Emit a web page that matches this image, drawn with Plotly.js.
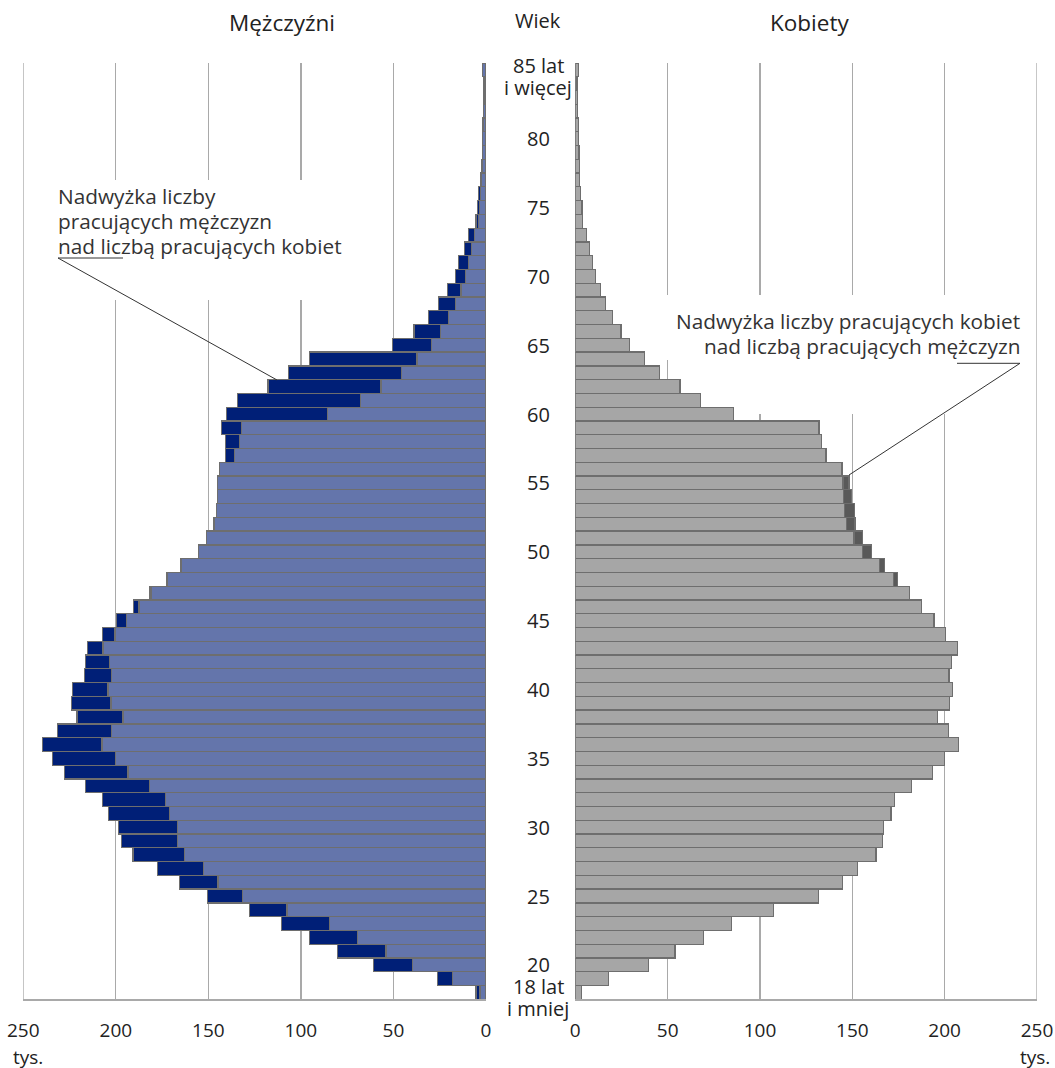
<!DOCTYPE html>
<html>
<head>
<meta charset="utf-8">
<script src="https://cdn.plot.ly/plotly-3.0.1.min.js"></script>
<style>
  html, body { margin: 0; padding: 0; background: #ffffff; }
  #chart { width: 1055px; height: 1068px; }
</style>
</head>
<body>
<div id="chart"></div>
<script>
// ---- DATA (thousands of employed persons, by age 18 ... 85+) ----
const ages = [18,19,20,21,22,23,24,25,26,27,28,29,30,31,32,33,34,35,36,37,38,39,40,41,42,43,44,45,46,47,48,49,50,51,
  52,53,54,55,56,57,58,59,60,61,62,63,64,65,66,67,68,69,70,71,72,73,74,75,76,77,78,79,80,81,82,83,84,85];

const menValues = [5.4,26.1,60.7,80.3,95.4,110.4,127.9,150.4,165.7,177.4,190.7,196.8,198.6,203.9,207.3,216.3,227.8,
  234.1,239.7,231.6,221.0,224.0,223.5,216.8,216.3,215.4,207.3,199.7,190.5,181.7,172.4,164.8,155.4,150.9,
  146.9,145.7,145.2,145.0,144.0,140.6,140.6,143.0,140.1,134.2,117.8,106.8,95.4,50.4,38.9,31.2,25.6,20.9,
  16.6,14.8,11.7,9.4,5.4,4.7,4.0,3.1,2.5,2.0,1.8,1.6,1.4,1.3,1.1,1.8];

const womenValues = [3.2,18.0,39.8,54.0,69.4,84.4,107.5,131.7,144.8,152.7,162.9,166.5,166.8,171.0,173.0,182.0,193.4,
  200.0,207.4,202.2,196.2,202.6,204.3,202.4,203.6,206.9,200.5,194.3,187.5,181.0,174.4,167.5,160.5,155.4,
  151.4,151.3,149.6,148.2,144.6,135.8,133.3,132.0,85.5,67.9,56.7,45.6,37.3,29.3,24.7,20.1,16.5,13.5,
  11.1,9.4,7.8,6.2,3.9,3.6,2.9,2.3,2.2,2.0,1.8,1.6,1.3,1.1,0.9,1.8];

const ageTickVals = [18,20,25,30,35,40,45,50,55,60,65,70,75,80,85];
const ageTickText = ["18 lat<br>i mniej","20","25","30","35","40","45","50","55","60","65","70","75","80","85 lat<br>i więcej"];

const valueTicks = [0,50,100,150,200,250];
const valueTickText = ["0","50","100","150","200","250"];

const menNoteLines = ["Nadwyżka liczby","pracujących mężczyzn","nad liczbą pracujących kobiet"];
const womenNoteLines = ["Nadwyżka liczby pracujących kobiet","nad liczbą pracujących mężczyzn"];

// ---- derived series ----
const common = menValues.map((m,i) => Math.min(m, womenValues[i]));
const menExcess = menValues.map((m,i) => (m - womenValues[i] > 0 ? m - womenValues[i] : null));
const womenExcess = womenValues.map((w,i) => (w - menValues[i] > 0 ? w - menValues[i] : null));

const W = 1055, H = 1068;
const px = v => v / W;
const py = v => 1 - v / H;

const FONT = '"Open Sans", "Noto Sans", sans-serif';
const OUT = '#6e6e6e';
const GRID = '#a9a9a9';

const traces = [
  {type:'bar', orientation:'h', y:ages, x:common, xaxis:'x', yaxis:'y',
   marker:{color:'#6475ab', line:{color:OUT, width:1.3}}, hoverinfo:'skip', showlegend:false},
  {type:'bar', orientation:'h', y:ages, x:menExcess, xaxis:'x', yaxis:'y',
   marker:{color:'#001f77', line:{color:OUT, width:1.3}}, hoverinfo:'skip', showlegend:false},
  {type:'bar', orientation:'h', y:ages, x:common, xaxis:'x2', yaxis:'y',
   marker:{color:'#a6a6a6', line:{color:OUT, width:1.3}}, hoverinfo:'skip', showlegend:false},
  {type:'bar', orientation:'h', y:ages, x:womenExcess, xaxis:'x2', yaxis:'y',
   marker:{color:'#595959', line:{color:OUT, width:1.3}}, hoverinfo:'skip', showlegend:false}
];

const axisCommon = {
  tickvals: valueTicks, ticktext: valueTickText,
  showgrid: true, gridcolor: GRID, gridwidth: 1.3,
  zeroline: false, showline: true, linecolor: GRID, linewidth: 1.3,
  ticks: 'outside', ticklen: 14, tickcolor: 'rgba(0,0,0,0)',
  tickfont: {family: FONT, size: 19, color: '#222'},
  fixedrange: true, anchor: 'y'
};

const annotations = [];
ageTickVals.forEach((a, i) => {
  const lines = ageTickText[i].split('<br>');
  if (lines.length === 1) {
    annotations.push({xref:'paper', yref:'y', x:px(538), y:a, text:lines[0], showarrow:false,
      xanchor:'center', yanchor:'middle', font:{family:FONT, size:20, color:'#222'}});
  } else {
    const shifts = (i === 0) ? [6, -16] : [4, -18];
    lines.forEach((t, k) => annotations.push({xref:'paper', yref:'y', x:px(538), y:a, text:t,
      showarrow:false, xanchor:'center', yanchor:'middle', yshift:shifts[k],
      font:{family:FONT, size:20, color:'#222'}}));
  }
});

annotations.push(
  {xref:'paper', yref:'paper', x:px(282), y:py(22), text:'Mężczyźni', showarrow:false,
   xanchor:'center', yanchor:'middle', font:{family:FONT, size:22.5, color:'#222'}},
  {xref:'paper', yref:'paper', x:px(809), y:py(22), text:'Kobiety', showarrow:false,
   xanchor:'center', yanchor:'middle', font:{family:FONT, size:22.5, color:'#222'}},
  {xref:'paper', yref:'paper', x:px(538), y:py(20), text:'Wiek', showarrow:false,
   xanchor:'center', yanchor:'middle', font:{family:FONT, size:20, color:'#222'}},
  {xref:'paper', yref:'paper', x:px(11), y:py(1057), text:'tys.', showarrow:false,
   xanchor:'left', yanchor:'middle', font:{family:FONT, size:19, color:'#222'}},
  {xref:'paper', yref:'paper', x:px(1052), y:py(1057), text:'tys.', showarrow:false,
   xanchor:'right', yanchor:'middle', font:{family:FONT, size:19, color:'#222'}}
);

const menNoteY = [196, 221, 246.5];
menNoteLines.forEach((t, k) => annotations.push({xref:'paper', yref:'paper', x:px(56), y:py(menNoteY[k]),
  text:t, showarrow:false, xanchor:'left', yanchor:'middle', font:{family:FONT, size:20.8, color:'#333'}}));
const womenNoteY = [320.5, 345.5];
womenNoteLines.forEach((t, k) => annotations.push({xref:'paper', yref:'paper', x:px(1022), y:py(womenNoteY[k]),
  text:t, showarrow:false, xanchor:'right', yanchor:'middle', font:{family:FONT, size:20.8, color:'#333'}}));

const lineStyle = {color:'#333', width:1};
const shapes = [
  // outer vertical grid lines at 250
  {type:'line', xref:'x', yref:'y', x0:250, x1:250, y0:17.5, y1:85.5, line:{color:GRID, width:1.3}, layer:'below'},
  {type:'line', xref:'x2', yref:'y', x0:250, x1:250, y0:17.5, y1:85.5, line:{color:GRID, width:1.3}, layer:'below'},
  // zero lines
  {type:'line', xref:'x', yref:'y', x0:0, x1:0, y0:17.5, y1:85.5, line:{color:OUT, width:1.3}, layer:'below'},
  {type:'line', xref:'x2', yref:'y', x0:0, x1:0, y0:17.5, y1:85.5, line:{color:OUT, width:1.3}, layer:'below'},
  // white panels behind callout texts (hide gridlines)
  {type:'rect', xref:'x', yref:'y', x0:233.4, x1:61.0, y0:70.97, y1:77.0, fillcolor:'#ffffff', line:{width:0}, layer:'between'},
  {type:'rect', xref:'x', yref:'y', x0:210.7, x1:61.0, y0:68.28, y1:70.97, fillcolor:'#ffffff', line:{width:0}, layer:'between'},
  {type:'rect', xref:'x2', yref:'y', x0:39.4, x1:248.5, y0:63.93, y1:68.64, fillcolor:'#ffffff', line:{width:0}, layer:'between'},
  {type:'rect', xref:'x2', yref:'y', x0:92.0, x1:248.5, y0:60.0, y1:63.93, fillcolor:'#ffffff', line:{width:0}, layer:'between'},
  // leader lines
  {type:'line', xref:'paper', yref:'paper', x0:px(58), y0:py(258), x1:px(123), y1:py(258), line:lineStyle, layer:'above'},
  {type:'line', xref:'paper', yref:'paper', x0:px(58), y0:py(258), x1:px(277), y1:py(380), line:lineStyle, layer:'above'},
  {type:'line', xref:'paper', yref:'paper', x0:px(957), y0:py(363.3), x1:px(1020), y1:py(363.3), line:lineStyle, layer:'above'},
  {type:'line', xref:'paper', yref:'paper', x0:px(1020), y0:py(363.3), x1:px(849), y1:py(475), line:lineStyle, layer:'above'}
];

const layout = {
  width: W, height: H,
  margin: {l:0, r:0, t:0, b:0},
  paper_bgcolor: '#ffffff', plot_bgcolor: 'rgba(0,0,0,0)',
  barmode: 'stack', bargap: 0,
  showlegend: false,
  font: {family: FONT, color: '#222'},
  xaxis: Object.assign({}, axisCommon, {domain:[px(23.3), px(486)], range:[250, 0]}),
  xaxis2: Object.assign({}, axisCommon, {domain:[px(575.3), px(1037)], range:[0, 250]}),
  yaxis: {domain:[1 - 999.3/H, 1 - 62.9/H], range:[17.5, 85.5], showticklabels:false,
          showgrid:false, zeroline:false, showline:false, ticks:'', fixedrange:true},
  annotations: annotations,
  shapes: shapes
};

Plotly.newPlot('chart', traces, layout, {staticPlot:true, displayModeBar:false});
</script>
</body>
</html>
